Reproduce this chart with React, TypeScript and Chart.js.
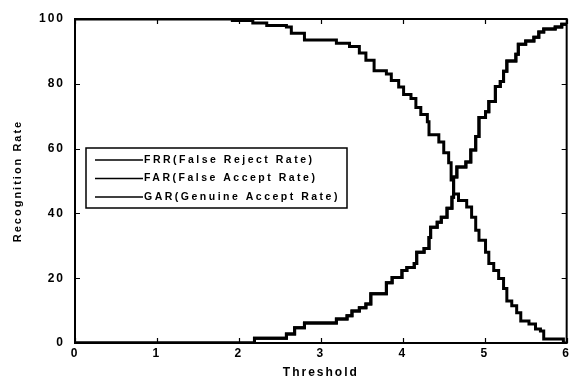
import React, { useEffect, useRef } from 'react';
import { Chart, registerables } from 'chart.js';

Chart.register(...registerables);

const xTickValues = [0, 1, 2, 3, 4, 5, 6];
const yTickValues = [0, 20, 40, 60, 80, 100];
const seriesLabels = ['FRR(False Reject Rate)', 'FAR(False Accept Rate)', 'GAR(Genuine Accept Rate)'];
const xTitle = 'Threshold';
const yTitle = 'Recognition Rate';

const frrX = [0, 1.92, 2.17, 2.34, 2.58, 2.64, 2.8, 3.19, 3.35, 3.47, 3.55, 3.65, 3.8, 3.86, 3.95, 4.01, 4.1, 4.16, 4.22, 4.3, 4.32, 4.44, 4.5, 4.56, 4.59, 4.62, 4.68, 4.78, 4.84, 4.89, 4.93, 5.01, 5.05, 5.11, 5.17, 5.23, 5.27, 5.33, 5.39, 5.44, 5.54, 5.62, 5.68, 5.72, 5.96, 6];
const frrY = [100, 99.5, 98.8, 98, 97.5, 95.6, 93.5, 92.5, 91.5, 89.5, 87.3, 84, 83, 81, 79, 76.7, 75.5, 72.7, 70.5, 68.3, 64.3, 62, 58.7, 55.6, 50.3, 46, 44, 42, 38.8, 34.8, 31.7, 28, 24.5, 22.4, 19.9, 16.8, 13, 11.5, 9.3, 6.8, 5.9, 4.3, 3.7, 1.2, 0, 0];

const farX = [0, 2.19, 2.58, 2.68, 2.8, 3.19, 3.32, 3.38, 3.47, 3.55, 3.61, 3.8, 3.87, 3.99, 4.05, 4.14, 4.17, 4.26, 4.32, 4.34, 4.42, 4.47, 4.54, 4.6, 4.62, 4.66, 4.77, 4.83, 4.89, 4.93, 5.01, 5.05, 5.13, 5.19, 5.23, 5.27, 5.38, 5.41, 5.5, 5.6, 5.66, 5.72, 5.86, 5.94, 6];
const farY = [0, 1.5, 2.8, 4.7, 6.2, 7.4, 8.4, 9.9, 10.9, 12, 15.2, 18.6, 20.2, 22.4, 23.3, 24.5, 28, 29.2, 32.6, 35.7, 37.3, 38.8, 41.6, 45, 51.2, 54.3, 55.9, 59.6, 63.7, 69.6, 71.4, 74.5, 79.2, 80.7, 83.9, 87, 89.1, 92.2, 93.2, 94.4, 96, 96.9, 97.5, 98.4, 98.5];

const garX = [0, 2.19, 2.58, 2.68, 2.8, 3.19, 3.32, 3.38, 3.47, 3.55, 3.61, 3.8, 3.87, 3.99, 4.05, 4.14, 4.17, 4.26, 4.32, 4.34, 4.42, 4.47, 4.54, 4.6, 4.62, 4.66, 4.77, 4.83, 4.89, 4.93, 5.01, 5.05, 5.13, 5.19, 5.23, 5.27, 5.38, 5.41, 5.5, 5.6, 5.66, 5.72, 5.86, 5.94, 6];
const garY = [0, 1.5, 2.8, 4.7, 6.2, 7.4, 8.4, 9.9, 10.9, 12, 15.2, 18.6, 20.2, 22.4, 23.3, 24.5, 28, 29.2, 32.6, 35.7, 37.3, 38.8, 41.6, 45, 51.2, 54.3, 55.9, 59.6, 63.7, 69.6, 71.4, 74.5, 79.2, 80.7, 83.9, 87, 89.1, 92.2, 93.2, 94.4, 96, 96.9, 97.5, 98.4, 98.5];

const FONT = '"Liberation Sans", Arial, sans-serif';

const spacingPlugin = {
  id: 'spacing',
  beforeDraw(chart: any) {
    (chart.ctx as any).letterSpacing = '2px';
  },
  afterDraw(chart: any) {
    (chart.ctx as any).letterSpacing = '0px';
  },
};

const framePlugin = {
  id: 'frame',
  afterDatasetsDraw(chart: any) {
    const { ctx, chartArea: a, scales } = chart;
    const x = scales.x;
    const y = scales.y;
    ctx.save();
    ctx.strokeStyle = '#000';
    ctx.lineWidth = 2;
    ctx.strokeRect(a.left, a.top, a.right - a.left, a.bottom - a.top);
    ctx.lineWidth = 1.2;
    ctx.beginPath();
    xTickValues.forEach((v) => {
      const px = Math.round(x.getPixelForValue(v)) + 0.5;
      ctx.moveTo(px, a.bottom);
      ctx.lineTo(px, a.bottom - 5);
      ctx.moveTo(px, a.top);
      ctx.lineTo(px, a.top + 5);
    });
    yTickValues.forEach((v) => {
      const py = Math.round(y.getPixelForValue(v)) + 0.5;
      ctx.moveTo(a.left, py);
      ctx.lineTo(a.left + 5, py);
      ctx.moveTo(a.right, py);
      ctx.lineTo(a.right - 5, py);
    });
    ctx.stroke();
    ctx.restore();
  },
};

const legendPlugin = {
  id: 'boxLegend',
  afterDraw(chart: any) {
    const { ctx, chartArea: a } = chart;
    const left = a.left + 11;
    const top = a.top + 129;
    const w = 261;
    const h = 60;
    ctx.save();
    ctx.fillStyle = '#fff';
    ctx.fillRect(left, top, w, h);
    ctx.strokeStyle = '#000';
    ctx.lineWidth = 1.5;
    ctx.strokeRect(left, top, w, h);
    ctx.font = `bold 10.5px ${FONT}`;
    (ctx as any).letterSpacing = '2.5px';
    ctx.textBaseline = 'middle';
    ctx.fillStyle = '#000';
    chart.data.datasets.forEach((ds: any, i: number) => {
      const cy = top + 12 + i * 18.5;
      ctx.lineWidth = 1.5;
      ctx.beginPath();
      ctx.moveTo(left + 9, cy);
      ctx.lineTo(left + 57, cy);
      ctx.stroke();
      ctx.fillText(ds.label, left + 58, cy);
    });
    ctx.restore();
  },
};

const toPoints = (xs: number[], ys: number[]) => xs.map((v, i) => ({ x: v, y: ys[i] }));

export default function App() {
  const ref = useRef<HTMLCanvasElement | null>(null);
  useEffect(() => {
    if (!ref.current) return;
    const mk = (label: string, xs: number[], ys: number[]) => ({
      label,
      data: toPoints(xs, ys),
      borderColor: '#000',
      backgroundColor: '#000',
      borderWidth: 3,
      pointRadius: 0,
      stepped: true,
      fill: false,
    });
    const chart = new Chart(ref.current, {
      type: 'line',
      data: {
        datasets: [
          mk(seriesLabels[0], frrX, frrY),
          mk(seriesLabels[1], farX, farY),
          mk(seriesLabels[2], garX, garY),
        ],
      },
      options: {
        animation: false,
        responsive: false,
        devicePixelRatio: 1,
        layout: { padding: { top: 19, right: 3, left: 0, bottom: 0 } },
        plugins: { legend: { display: false }, tooltip: { enabled: false } },
        scales: {
          x: {
            type: 'linear',
            min: 0,
            max: 6,
            afterFit: (s: any) => { s.height = 38; },
            afterBuildTicks: (s: any) => { s.ticks = xTickValues.map((v) => ({ value: v })); },
            grid: { display: false, drawTicks: false },
            border: { display: false },
            ticks: { color: '#000', font: { family: FONT, size: 12, weight: 'bold' }, padding: 3, maxRotation: 0 },
            title: { display: true, text: xTitle, color: '#000', font: { family: FONT, size: 12, weight: 'bold' }, padding: { top: 0, bottom: 1 } },
          },
          y: {
            type: 'linear',
            min: 0,
            max: 100,
            afterFit: (s: any) => { s.width = 75; },
            afterBuildTicks: (s: any) => { s.ticks = yTickValues.map((v) => ({ value: v })); },
            grid: { display: false, drawTicks: false },
            border: { display: false },
            ticks: { color: '#000', font: { family: FONT, size: 12, weight: 'bold' }, padding: 10 },
            title: { display: true, text: yTitle, color: '#000', font: { family: FONT, size: 11, weight: 'bold' }, padding: { top: 11, bottom: 0 } },
          },
        },
      },
      plugins: [spacingPlugin, framePlugin, legendPlugin],
    } as any);
    return () => chart.destroy();
  }, []);
  return (
    <div style={{ position: 'absolute', left: 0, top: 0, width: 573, height: 381, background: '#fff' }}>
      <canvas ref={ref} width={573} height={381} style={{ display: 'block' }} />
    </div>
  );
}
